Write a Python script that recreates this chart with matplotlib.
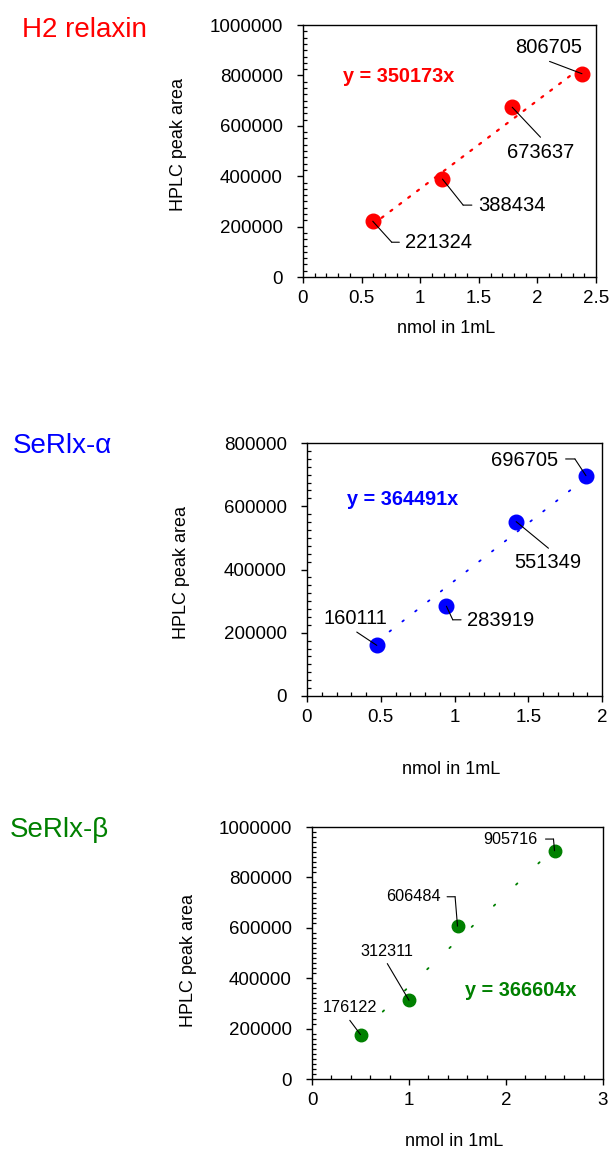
import matplotlib.pyplot as plt
from matplotlib.ticker import MultipleLocator, FuncFormatter
from matplotlib.transforms import offset_copy

plt.rcParams['font.family'] = ['Liberation Sans', 'DejaVu Sans']

# data
h2_x = [0.595, 1.19, 1.785, 2.38]
h2_y = [221324, 388434, 673637, 806705]
h2_slope = 350173

alpha_x = [0.473, 0.945, 1.418, 1.891]
alpha_y = [160111, 283919, 551349, 696705]
alpha_slope = 364491

beta_x = [0.5, 1.0, 1.5, 2.5]
beta_y = [176122, 312311, 606484, 905716]
beta_slope = 366604

titles = ['H2 relaxin', 'SeRlx-\u03b1', 'SeRlx-\u03b2']
colors = ['#ff0000', '#0000ff', '#008000']

W, H = 611, 1149
fig = plt.figure(figsize=(W / 100, H / 100), dpi=100)


def px_rect(l, r, t, b):
    return [l / W, 1 - b / H, (r - l) / W, (b - t) / H]


def leader(ax, pt, verts):
    # polyline given as pixel offsets from the data point
    for a, b in zip(verts[:-1], verts[1:]):
        ta = offset_copy(ax.transData, fig=fig, x=a[0], y=a[1], units='dots')
        tb = offset_copy(ax.transData, fig=fig, x=b[0], y=b[1], units='dots')
        ax.annotate('', xy=pt, xycoords=tb, xytext=pt, textcoords=ta,
                    arrowprops=dict(arrowstyle='-', lw=0.8, color='black',
                                    shrinkA=0, shrinkB=0), zorder=5)


panels = [
    dict(x=h2_x, y=h2_y, slope=h2_slope, rect=px_rect(303, 596, 25, 277),
         xmax=2.5, xmaj=0.5, xmin=0.1, ymax=1000000, ymin=25000,
         ms=10.5, dash=(1, 4), dlw=1.6, lfs=14.5,
         eq=(0.136, 0.795), ylab=(-0.396, 0.524), xlab=(0.49, -0.172),
         title=(22, 36.7),
         labels=[((32, -21), 'left', [(0, 0), (19, -21), (26.6, -21)]),
                 ((35.7, -26), 'left', [(0, 0), (20.7, -26), (29.4, -26)]),
                 ((28.3, -45.7), 'center', [(0, 0), (28.3, -30)]),
                 ((-33.7, 26), 'center', [(0, 0), (-32.4, 12.3)])]),
    dict(x=alpha_x, y=alpha_y, slope=alpha_slope, rect=px_rect(307, 602, 443, 696),
         xmax=2, xmaj=0.5, xmin=0.1, ymax=800000, ymin=25000,
         ms=10.5, dash=(1, 8), dlw=1.3, lfs=14.5,
         eq=(0.136, 0.775), ylab=(-0.396, 0.49), xlab=(0.49, -0.256),
         title=(13, 453.3),
         labels=[((-21, 27), 'center', [(0, 0), (-20, 13.3)]),
                 ((20.7, -14.3), 'left', [(0, 0), (6.4, -13.6), (14.7, -13.6)]),
                 ((31.5, -41.3), 'center', [(0, 0), (32.3, -26.6)]),
                 ((-27.3, 15), 'right', [(0, 0), (-11, 16.7), (-20.3, 16.7)])]),
    dict(x=beta_x, y=beta_y, slope=beta_slope, rect=px_rect(312, 603, 827, 1079),
         xmax=3, xmaj=1, xmin=0.2, ymax=1000000, ymin=20000,
         ms=9, dash=(1, 16), dlw=1.3, lfs=11.7,
         eq=(0.526, 0.353), ylab=(-0.396, 0.47), xlab=(0.49, -0.214),
         title=(10, 837),
         labels=[((-11, 27), 'center', [(0, 0), (-10.7, 14.3)]),
                 ((-22, 48.7), 'center', [(0, 0), (-21.7, 36.7)]),
                 ((-16.7, 29.7), 'right', [(0, 0), (-2.4, 29.4), (-10.4, 29.4)]),
                 ((-17, 11.7), 'right', [(0, 0), (-1, 11.7), (-9, 11.7)])]),
]

for p, title, c in zip(panels, titles, colors):
    ax = fig.add_axes(p['rect'])
    ax.set_xlim(0, p['xmax'])
    ax.set_ylim(0, p['ymax'])

    # trendline through origin
    x0, x1 = min(p['x']), max(p['x'])
    ax.plot([x0, x1], [p['slope'] * x0, p['slope'] * x1], color=c,
            lw=p['dlw'], linestyle=(0, p['dash']), dash_capstyle='round', zorder=2)
    ax.plot(p['x'], p['y'], 'o', color=c, ms=p['ms'], mec=c, zorder=3)

    for xv, yv, (off, ha, verts) in zip(p['x'], p['y'], p['labels']):
        ax.annotate(str(yv), xy=(xv, yv), xytext=off, textcoords='offset pixels',
                    ha=ha, va='center', fontsize=p['lfs'], color='black', zorder=6)
        leader(ax, (xv, yv), verts)

    ax.text(p['eq'][0], p['eq'][1], 'y = %dx' % p['slope'], transform=ax.transAxes,
            color=c, fontsize=14.3, fontweight='bold', ha='left', va='center')

    ax.xaxis.set_major_locator(MultipleLocator(p['xmaj']))
    ax.xaxis.set_minor_locator(MultipleLocator(p['xmin']))
    ax.yaxis.set_major_locator(MultipleLocator(200000))
    ax.yaxis.set_minor_locator(MultipleLocator(p['ymin']))
    ax.xaxis.set_major_formatter(FuncFormatter(lambda v, _: '%g' % v))
    ax.yaxis.set_major_formatter(FuncFormatter(lambda v, _: '%d' % v))
    ax.tick_params(which='major', direction='out', length=4.5, width=1.0,
                   labelsize=13.5, colors='black')
    ax.tick_params(axis='x', which='major', pad=5)
    ax.tick_params(axis='y', which='major', pad=10)
    ax.tick_params(which='minor', direction='in', length=3, width=0.9)
    for s in ax.spines.values():
        s.set_linewidth(1.0)
        s.set_color('black')

    ax.set_ylabel('HPLC peak area', fontsize=13)
    ax.set_xlabel('nmol in 1mL', fontsize=13)
    ax.yaxis.set_label_coords(*p['ylab'])
    ax.xaxis.set_label_coords(*p['xlab'])

    fig.text(p['title'][0] / W, 1 - p['title'][1] / H, title, color=c,
             fontsize=20, ha='left', va='baseline')

fig.savefig('out.png', dpi=100)
